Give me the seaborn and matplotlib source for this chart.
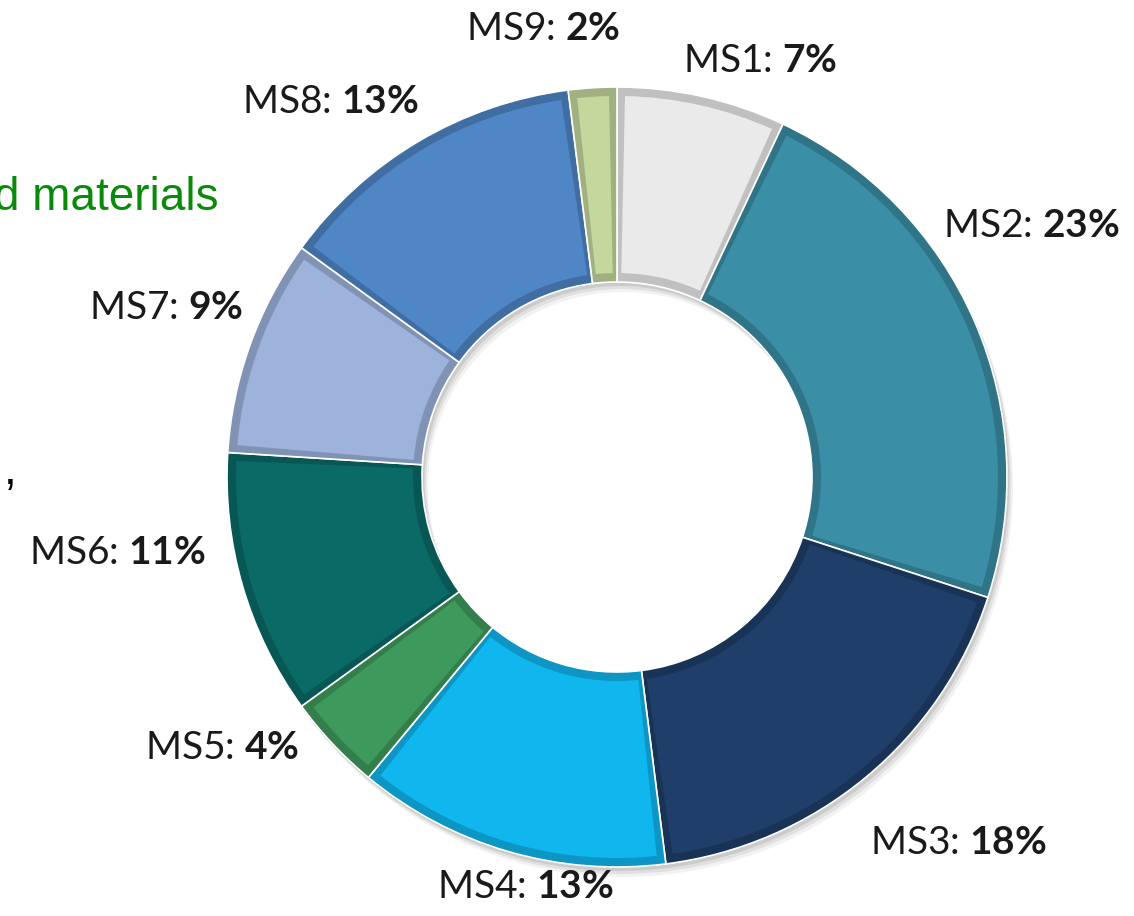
import matplotlib.pyplot as plt
import seaborn as sns
from matplotlib.patches import Wedge
from matplotlib.colors import to_rgb

labels = ['MS1', 'MS2', 'MS3', 'MS4', 'MS5', 'MS6', 'MS7', 'MS8', 'MS9']
shares = [7, 23, 18, 13, 4, 11, 9, 13, 2]
colors = ['#EAEAEA', '#3A8EA6', '#1F3E69', '#10B6EE', '#3E9A5C',
          '#0A6A66', '#9DB3DC', '#4F86C6', '#C4D79D']

# label anchor points in pixels (figure is 1134 x 916)
label_pos = [(760, 61), (1031, 226), (958, 843), (525, 887), (222, 748),
             (117, 553), (166, 308), (330, 102), (543, 29)]


def shade(c, f):
    r, g, b = to_rgb(c)
    return (r * f, g * f, b * f)


def main():
    sns.set_theme(style='white')
    plt.rcParams['font.family'] = ['Lato', 'DejaVu Sans']
    plt.rcParams['mathtext.fontset'] = 'custom'
    plt.rcParams['mathtext.rm'] = 'Lato'
    plt.rcParams['mathtext.bf'] = 'Lato:bold'

    W, H = 1134, 916
    fig = plt.figure(figsize=(W / 100, H / 100), dpi=100)
    ax = fig.add_axes([0, 0, 1, 1])
    ax.set_xlim(0, W)
    ax.set_ylim(0, H)
    ax.set_aspect('equal')
    ax.axis('off')

    cx, cy = 617, H - 477
    R, ring = 390, 195

    # soft shadow
    for k, a in [(10, 0.05), (7, 0.07), (4, 0.09)]:
        ax.add_patch(Wedge((cx + k * 0.6, cy - k), R, 0, 360, width=ring,
                           facecolor='black', alpha=a, lw=0))

    wedges, _ = ax.pie(shares, colors=[shade(c, 0.82) for c in colors],
                       startangle=90, counterclock=False, radius=R, center=(cx, cy),
                       wedgeprops=dict(width=ring, edgecolor='white', linewidth=1.2),
                       frame=True)

    # bevelled face of each slice
    for w, c in zip(wedges, colors):
        t1, t2 = w.theta1, w.theta2
        pad = 1.2
        ax.add_patch(Wedge((cx, cy), R - 9, t1 + pad, t2 - pad, width=ring - 18,
                           facecolor=c, lw=0))

    ax.set_xlim(0, W)
    ax.set_ylim(0, H)
    ax.axis('off')

    for lab, val, (x, y) in zip(labels, shares, label_pos):
        ax.text(x, H - y, lab + r': $\mathbf{' + str(val) + r'\%}$',
                ha='center', va='center', fontsize=28, color='#1a1a1a')

    ax.text(218, H - 198, 'd materials', ha='right', va='center', fontsize=33,
            color='#0A8A0A', family=['Liberation Sans', 'DejaVu Sans'])
    ax.text(4, H - 472, ',', ha='left', va='center', fontsize=33,
            color='black', family=['Liberation Sans', 'DejaVu Sans'])

    fig.savefig('out.png', dpi=100)
    plt.close(fig)


if __name__ == '__main__':
    main()
